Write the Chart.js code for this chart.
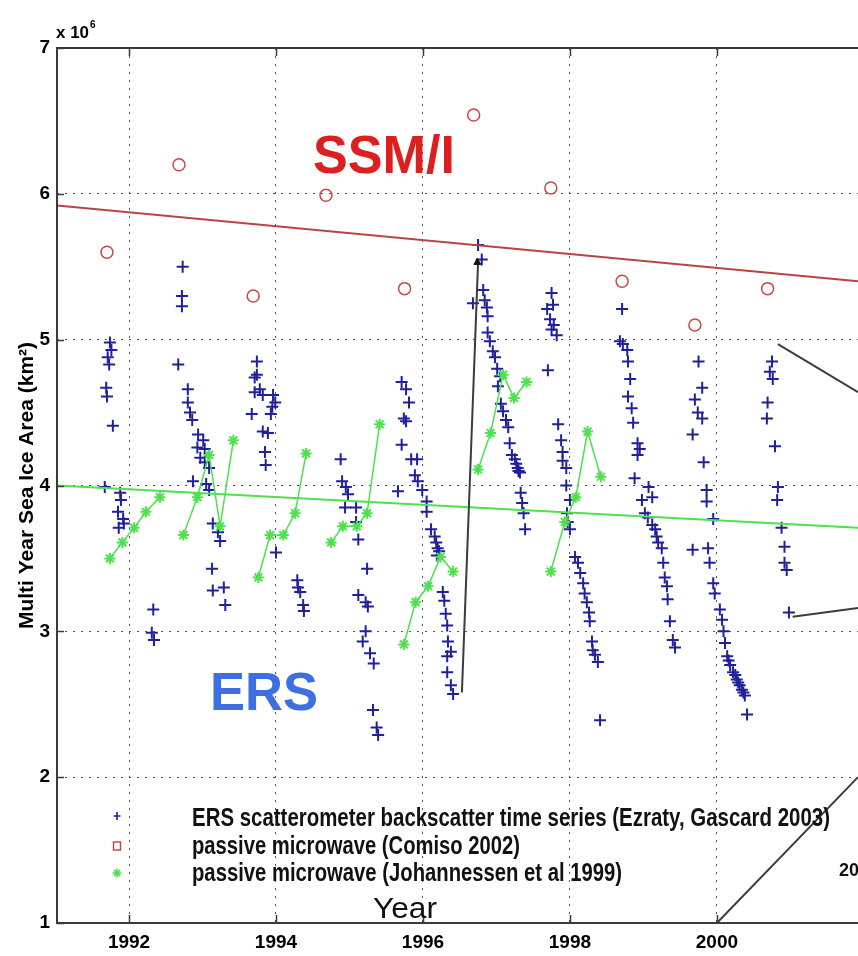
<!DOCTYPE html>
<html>
<head>
<meta charset="utf-8">
<script src="https://cdn.jsdelivr.net/npm/chart.js@4.4.0/dist/chart.umd.min.js"></script>
<style>
    html, body { margin: 0; padding: 0; background: #fff; overflow: hidden; width: 858px; height: 956px; }
    canvas { display: block; }
</style>
</head>
<body>
<canvas id="iceChart" width="866" height="956"></canvas>
<script>
// axis ticks
const yearTicks = [1992, 1994, 1996, 1998, 2000];
const areaTicks = [1, 2, 3, 4, 5, 6, 7];

// ERS scatterometer backscatter (Ezraty, Gascard 2003), one pair per winter
const ers9192Years = [1991.74, 1991.76, 1991.71, 1991.73, 1991.69, 1991.70, 1991.78, 1991.67, 1991.88, 1991.89, 1991.85, 1991.92, 1991.86, 1991.93, 1992.33, 1992.31, 1992.34];
const ers9192Area = [4.98, 4.93, 4.88, 4.83, 4.67, 4.61, 4.41, 3.99, 3.95, 3.90, 3.82, 3.77, 3.71, 3.74, 3.15, 2.99, 2.94];

const ers9293Years = [1992.73, 1992.72, 1992.72, 1992.67, 1992.80, 1992.80, 1992.83, 1992.86, 1992.94, 1993.01, 1992.93, 1993.03, 1992.97, 1993.03, 1993.09, 1992.87, 1993.05, 1993.09, 1993.14, 1993.21, 1993.24, 1993.13, 1993.14, 1993.29, 1993.31];
const ers9293Area = [5.50, 5.30, 5.23, 4.83, 4.66, 4.57, 4.50, 4.45, 4.35, 4.31, 4.26, 4.25, 4.19, 4.16, 4.12, 4.03, 4.01, 3.97, 3.74, 3.68, 3.62, 3.43, 3.28, 3.30, 3.18];

const ers9394Years = [1993.74, 1993.74, 1993.71, 1993.78, 1993.71, 1993.82, 1993.96, 1993.99, 1993.95, 1993.93, 1993.67, 1993.82, 1993.89, 1993.85, 1993.86, 1994.00, 1994.29, 1994.30, 1994.33, 1994.37, 1994.38];
const ers9394Area = [4.85, 4.76, 4.74, 4.66, 4.64, 4.62, 4.62, 4.57, 4.54, 4.49, 4.49, 4.37, 4.36, 4.23, 4.14, 3.54, 3.35, 3.30, 3.27, 3.18, 3.14];

const ers9495Years = [1994.88, 1994.90, 1994.95, 1994.98, 1994.94, 1995.09, 1995.09, 1995.12, 1995.24, 1995.12, 1995.22, 1995.25, 1995.22, 1995.18, 1995.28, 1995.33, 1995.32, 1995.37, 1995.39];
const ers9495Area = [4.18, 4.03, 3.99, 3.94, 3.85, 3.85, 3.75, 3.63, 3.43, 3.25, 3.20, 3.17, 3.00, 2.93, 2.85, 2.78, 2.46, 2.34, 2.29];

const ers9596Years = [1995.71, 1995.77, 1995.81, 1995.74, 1995.77, 1995.71, 1995.84, 1995.92, 1995.89, 1995.93, 1995.66, 1995.99, 1996.05, 1996.05, 1996.11, 1996.16, 1996.18, 1996.20, 1996.22, 1996.19, 1996.27, 1996.29, 1996.31, 1996.33, 1996.34, 1996.38, 1996.33, 1996.33, 1996.38, 1996.41];
const ers9596Area = [4.71, 4.66, 4.57, 4.46, 4.44, 4.28, 4.18, 4.18, 4.07, 4.03, 3.96, 3.97, 3.89, 3.82, 3.70, 3.65, 3.61, 3.57, 3.55, 3.52, 3.27, 3.21, 3.12, 3.04, 2.93, 2.86, 2.83, 2.72, 2.63, 2.57];

const ers9697Years = [1996.75, 1996.80, 1996.82, 1996.84, 1996.68, 1996.87, 1996.88, 1996.88, 1996.91, 1996.95, 1996.98, 1997.01, 1997.05, 1997.02, 1997.06, 1997.09, 1997.13, 1997.16, 1997.18, 1997.21, 1997.25, 1997.27, 1997.29, 1997.30, 1997.32, 1997.33, 1997.35, 1997.37, 1997.39];
const ers9697Area = [5.65, 5.55, 5.34, 5.27, 5.25, 5.22, 5.16, 5.05, 4.99, 4.92, 4.88, 4.80, 4.75, 4.68, 4.56, 4.51, 4.45, 4.40, 4.29, 4.21, 4.18, 4.15, 4.12, 4.10, 4.09, 3.95, 3.88, 3.81, 3.70];

const ers9798Years = [1997.75, 1997.77, 1997.69, 1997.73, 1997.78, 1997.75, 1997.82, 1997.70, 1997.84, 1997.88, 1997.90, 1997.90, 1997.95, 1997.95, 1998.00, 1997.96, 1997.97, 1998.00, 1998.07, 1998.11, 1998.14, 1998.18, 1998.20, 1998.23, 1998.26, 1998.27, 1998.30, 1998.31, 1998.34, 1998.38, 1998.41];
const ers9798Area = [5.32, 5.24, 5.21, 5.14, 5.10, 5.07, 5.03, 4.79, 4.42, 4.31, 4.23, 4.17, 4.12, 4.00, 3.90, 3.81, 3.75, 3.70, 3.51, 3.47, 3.40, 3.33, 3.26, 3.20, 3.13, 3.07, 2.93, 2.87, 2.84, 2.79, 2.39];

const ers9899Years = [1998.71, 1998.68, 1998.72, 1998.78, 1998.79, 1998.82, 1998.79, 1998.84, 1998.86, 1998.92, 1998.95, 1998.92, 1998.88, 1999.07, 1999.12, 1998.98, 1999.02, 1999.06, 1999.12, 1999.16, 1999.18, 1999.20, 1999.25, 1999.27, 1999.29, 1999.32, 1999.33, 1999.36, 1999.40, 1999.43];
const ers9899Area = [5.21, 4.99, 4.97, 4.93, 4.85, 4.73, 4.61, 4.53, 4.43, 4.29, 4.25, 4.21, 4.05, 3.99, 3.92, 3.90, 3.81, 3.78, 3.73, 3.70, 3.65, 3.61, 3.57, 3.47, 3.37, 3.31, 3.22, 3.07, 2.94, 2.89];

const ers9900Years = [1999.75, 1999.80, 1999.70, 1999.74, 1999.80, 1999.67, 1999.82, 1999.86, 1999.86, 1999.95, 1999.67, 1999.88, 1999.90, 1999.95, 1999.97, 2000.04, 2000.07, 2000.09, 2000.11, 2000.14, 2000.16, 2000.18, 2000.22, 2000.25, 2000.27, 2000.29, 2000.31, 2000.34, 2000.36, 2000.38, 2000.41];
const ers9900Area = [4.85, 4.67, 4.59, 4.50, 4.46, 4.35, 4.16, 3.97, 3.89, 3.77, 3.56, 3.57, 3.47, 3.33, 3.26, 3.15, 3.08, 3.00, 2.92, 2.83, 2.80, 2.77, 2.72, 2.70, 2.67, 2.65, 2.63, 2.60, 2.58, 2.56, 2.43];

const ers0001Years = [2000.75, 2000.72, 2000.76, 2000.69, 2000.68, 2000.79, 2000.83, 2000.82, 2000.88, 2000.92, 2000.92, 2000.95, 2000.98];
const ers0001Area = [4.85, 4.78, 4.73, 4.57, 4.46, 4.27, 3.99, 3.90, 3.71, 3.58, 3.47, 3.42, 3.13];

// SSM/I passive microwave (Comiso 2002)
const comisoYears = [1991.70, 1992.68, 1993.69, 1994.68, 1995.75, 1996.69, 1997.74, 1998.71, 1999.70, 2000.69];
const comisoArea = [5.60, 6.20, 5.30, 5.99, 5.35, 6.54, 6.04, 5.40, 5.10, 5.35];

// passive microwave (Johannessen et al 1999), one segment per winter
const johYears = [
    [1991.74, 1991.91, 1992.07, 1992.23, 1992.42],
    [1992.74, 1992.93, 1993.09, 1993.24, 1993.42],
    [1993.76, 1993.92, 1994.10, 1994.26, 1994.41],
    [1994.75, 1994.91, 1995.10, 1995.24, 1995.41],
    [1995.74, 1995.90, 1996.07, 1996.24, 1996.41],
    [1996.75, 1996.92, 1997.09, 1997.24, 1997.41],
    [1997.74, 1997.93, 1998.08, 1998.24, 1998.42]
];
const johArea = [
    [3.50, 3.61, 3.71, 3.82, 3.92],
    [3.66, 3.92, 4.21, 3.72, 4.31],
    [3.37, 3.66, 3.66, 3.81, 4.22],
    [3.61, 3.72, 3.72, 3.81, 4.42],
    [2.91, 3.20, 3.31, 3.51, 3.41],
    [4.11, 4.36, 4.76, 4.60, 4.71],
    [3.41, 3.75, 3.92, 4.37, 4.06]
];

// linear trends
const trendYears = [1991.02, 2001.92];
const comisoTrend = [5.92, 5.40];
const johTrend = [4.00, 3.71];

// grey guide lines (towards the zoom panel on the right)
const guideYears = [[1996.53, 1996.75], [2000.83, 2001.92], [2001.03, 2001.92], [2000.00, 2001.92]];
const guideArea = [[2.58, 5.53], [4.97, 4.64], [3.10, 3.16], [1.00, 2.00]];
const markYears = [1996.74];
const markArea = [5.53];

const FONT = "'Liberation Sans', Arial, sans-serif";

const pairs = (xs, ys) => xs.map((x, i) => ({ x: x, y: ys[i] }));
const segments = (xss, yss) => {
    const out = [];
    xss.forEach((xs, k) => {
        out.push(...pairs(xs, yss[k]));
        out.push({ x: xs[xs.length - 1], y: null });
    });
    return out;
};

const ersSeasons = [
    [ers9192Years, ers9192Area], [ers9293Years, ers9293Area], [ers9394Years, ers9394Area],
    [ers9495Years, ers9495Area], [ers9596Years, ers9596Area], [ers9697Years, ers9697Area],
    [ers9798Years, ers9798Area], [ers9899Years, ers9899Area], [ers9900Years, ers9900Area],
    [ers0001Years, ers0001Area]
];
const ersPoints = ersSeasons.flatMap(([xs, ys]) => pairs(xs, ys));

// draw text squeezed to a given width (the original uses a narrow font)
function fitText(ctx, text, x, y, font, width, align) {
    ctx.font = font;
    const w = ctx.measureText(text).width;
    const sx = width ? width / w : 1;
    ctx.save();
    ctx.translate(x, y);
    ctx.scale(sx, 1);
    ctx.textAlign = align || 'left';
    ctx.textBaseline = 'alphabetic';
    ctx.fillText(text, 0, 0);
    ctx.restore();
}

const decorPlugin = {
    id: 'decor',
    afterDraw(chart) {
        const { ctx, chartArea: a, scales: { x, y } } = chart;
        ctx.save();

        // box
        ctx.strokeStyle = '#3a3a3a';
        ctx.lineWidth = 2;
        ctx.beginPath();
        ctx.moveTo(a.right + 2, a.top);
        ctx.lineTo(a.left, a.top);
        ctx.lineTo(a.left, a.bottom);
        ctx.lineTo(a.right + 2, a.bottom);
        ctx.stroke();

        // tick marks pointing inwards
        ctx.lineWidth = 1.5;
        ctx.beginPath();
        yearTicks.forEach(v => {
            const px = Math.round(x.getPixelForValue(v)) + 0.5;
            ctx.moveTo(px, a.bottom); ctx.lineTo(px, a.bottom - 8);
            ctx.moveTo(px, a.top); ctx.lineTo(px, a.top + 8);
        });
        areaTicks.forEach(v => {
            const py = Math.round(y.getPixelForValue(v)) + 0.5;
            ctx.moveTo(a.left, py); ctx.lineTo(a.left + 7, py);
        });
        ctx.stroke();

        // exponent
        ctx.fillStyle = '#000';
        fitText(ctx, 'x 10', 56, 38, 'bold 16px ' + FONT, 33);
        fitText(ctx, '6', 90, 28, 'bold 10px ' + FONT, 0);

        // big labels
        ctx.fillStyle = '#dc1f1f';
        fitText(ctx, 'SSM/I', 313, 173, 'bold 53px ' + FONT, 142);
        ctx.fillStyle = '#3d6fe0';
        fitText(ctx, 'ERS', 210, 710, 'bold 53px ' + FONT, 108);

        // x axis title sits inside the frame
        ctx.fillStyle = '#111';
        fitText(ctx, 'Year', 405, 918, '30px ' + FONT, 64, 'center');

        // cut-off label of the side panel
        fitText(ctx, '2002', 839, 876, 'bold 18px ' + FONT, 0);

        // legend
        const lx = 117;
        ctx.strokeStyle = '#20209c';
        ctx.lineWidth = 1.6;
        ctx.beginPath();
        ctx.moveTo(lx - 3.5, 816); ctx.lineTo(lx + 3.5, 816);
        ctx.moveTo(lx, 812); ctx.lineTo(lx, 820);
        ctx.stroke();

        ctx.strokeStyle = '#c84848';
        ctx.lineWidth = 1.5;
        ctx.strokeRect(lx - 3.5, 842, 7, 8);

        ctx.strokeStyle = '#4ee04e';
        ctx.lineWidth = 1.6;
        ctx.beginPath();
        const sy = 873, r = 4.5;
        for (let k = 0; k < 4; k++) {
            const ang = k * Math.PI / 4;
            ctx.moveTo(lx - r * Math.cos(ang), sy - r * Math.sin(ang));
            ctx.lineTo(lx + r * Math.cos(ang), sy + r * Math.sin(ang));
        }
        ctx.stroke();

        ctx.fillStyle = '#111';
        const lf = 'bold 25px ' + FONT;
        fitText(ctx, 'ERS scatterometer backscatter time series (Ezraty, Gascard 2003)', 192, 826, lf, 638);
        fitText(ctx, 'passive microwave (Comiso 2002)', 192, 854, lf, 328);
        fitText(ctx, 'passive microwave (Johannessen et al 1999)', 192, 881, lf, 430);

        ctx.restore();
    }
};

new Chart(document.getElementById('iceChart'), {
    type: 'scatter',
    data: {
        datasets: [
            {
                label: 'marker',
                data: pairs(markYears, markArea),
                pointStyle: 'triangle',
                pointRadius: 4,
                backgroundColor: '#111',
                borderColor: '#111',
                borderWidth: 1
            },
            {
                label: 'guides',
                data: segments(guideYears, guideArea),
                showLine: true,
                spanGaps: false,
                borderColor: '#3c3c3c',
                borderWidth: 2,
                pointRadius: 0
            },
            {
                label: 'passive microwave (Johannessen et al 1999)',
                data: segments(johYears, johArea),
                showLine: true,
                spanGaps: false,
                borderColor: '#4ee04e',
                borderWidth: 1.5,
                pointStyle: 'star',
                pointRadius: 5.5,
                pointBorderWidth: 2,
                pointBorderColor: '#4ee04e'
            },
            {
                label: 'passive microwave (Comiso 2002)',
                data: pairs(comisoYears, comisoArea),
                pointStyle: 'circle',
                pointRadius: 6,
                borderColor: '#c84848',
                backgroundColor: 'rgba(0,0,0,0)',
                borderWidth: 1.5
            },
            {
                label: 'SSM/I trend',
                data: pairs(trendYears, comisoTrend),
                showLine: true,
                borderColor: '#b84444',
                borderWidth: 2,
                pointRadius: 0
            },
            {
                label: 'Johannessen trend',
                data: pairs(trendYears, johTrend),
                showLine: true,
                borderColor: '#4ee04e',
                borderWidth: 2,
                pointRadius: 0
            },
            {
                label: 'ERS scatterometer backscatter time series (Ezraty, Gascard 2003)',
                data: ersPoints,
                pointStyle: 'cross',
                pointRadius: 6,
                borderColor: '#20209c',
                borderWidth: 2
            }
        ]
    },
    options: {
        responsive: false,
        animation: false,
        events: [],
        layout: { padding: { top: 48, right: 0, bottom: 0, left: 0 } },
        plugins: {
            legend: { display: false },
            tooltip: { enabled: false }
        },
        scales: {
            x: {
                type: 'linear',
                min: 1991.02,
                max: 2001.92,
                afterBuildTicks: s => { s.ticks = yearTicks.map(v => ({ value: v })); },
                afterFit: s => { s.height = 33; },
                ticks: {
                    color: '#000',
                    padding: 8,
                    maxRotation: 0,
                    font: { family: FONT, size: 19, weight: 'bold' },
                    callback: v => String(v)
                },
                grid: { color: '#555', lineWidth: 1, drawTicks: false, borderDash: [2, 6] },
                border: { display: false, dash: [2, 6] }
            },
            y: {
                type: 'linear',
                min: 1,
                max: 7,
                afterBuildTicks: s => { s.ticks = areaTicks.map(v => ({ value: v })); },
                afterFit: s => { s.width = 57; },
                ticks: {
                    color: '#000',
                    padding: 7,
                    font: { family: FONT, size: 19, weight: 'bold' },
                    callback: v => String(v)
                },
                grid: { color: '#555', lineWidth: 1, drawTicks: false, borderDash: [2, 6] },
                border: { display: false, dash: [2, 6] },
                title: {
                    display: true,
                    text: 'Multi Year Sea Ice Area (km²)',
                    color: '#000',
                    font: { family: FONT, size: 21, weight: 'bold' },
                    padding: { top: 15, bottom: 0 }
                }
            }
        }
    },
    plugins: [decorPlugin]
});
</script>
</body>
</html>
